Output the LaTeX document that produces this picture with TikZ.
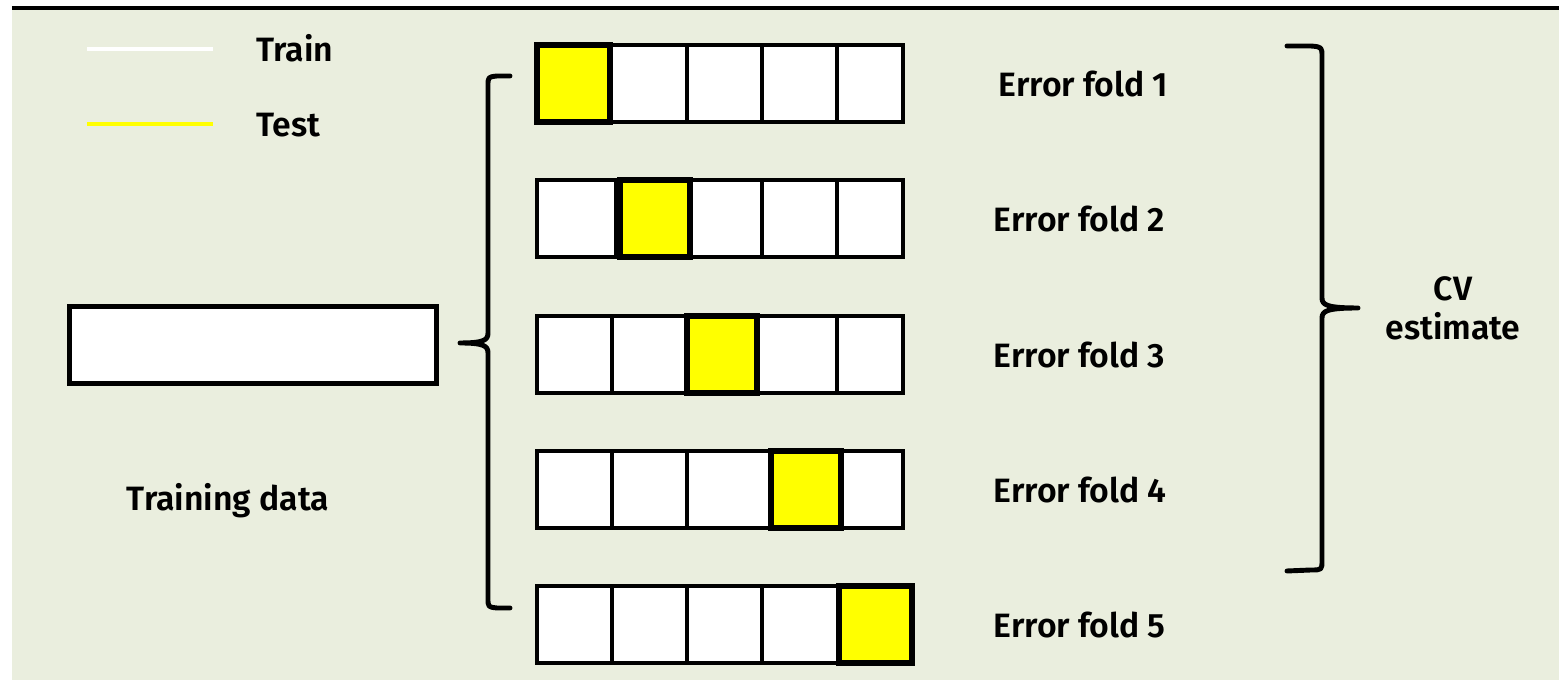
\documentclass[tikz,border=0pt]{standalone}
\usepackage{fontspec}
\setmainfont{Fira Sans}[BoldFont={Fira Sans SemiBold}]
\definecolor{panel}{RGB}{234,238,222}
\definecolor{testyellow}{RGB}{255,255,0}
\begin{document}
\begin{tikzpicture}[x=0.01cm, y=-0.01cm,
    font=\bfseries\fontsize{9.6}{11.4}\selectfont,
    fold/.style={draw, line width=1.4pt, fill=white},
    testcell/.style={draw, line width=1.5pt, fill=testyellow},
    cut/.style={line width=0.9pt},
    bracket/.style={line width=1.4pt, line cap=round, line join=round},
    lbl/.style={anchor=base west, inner sep=0pt}]
  \useasboundingbox (0,0) rectangle (1559,680);
  \fill[white] (0,0) rectangle (1559,680);
  \fill[panel] (12,8) rectangle (1559,680);
  \draw[line width=1.4pt] (12,8) |- (1559,8);

  % legend
  \draw[line width=1.4pt, white] (87,49) -- (213,49);
  \node[lbl] (train) at (256,62) {Train};
  \draw[line width=1.4pt, testyellow] (87,124) -- (213,124);
  \node[lbl] (test) at (256,137) {Test};

  % the whole training set
  \node[fold, inner sep=0pt, minimum width=3.66cm, minimum height=0.77cm] (data) at (253,345) {};
  \node[anchor=base] (datalbl) at (228,511) {Training data};

  % one row per fold, test block in yellow
  \foreach \k/\yt/\ya/\yb/\lx/\cuts in {1/45/537/610/998/{687,762,837},
      2/180/620/690/993/{616,762,837}, 3/316/687/757/993/{612,837},
      4/451/771/841/993/{612,687}, 5/586/839/912/993/{612,687,762}} {
    \draw[fold] (537,\yt) rectangle (903,\yt+77);
    \foreach \c in \cuts
      \draw[cut] (\c,\yt) -- (\c,\yt+77);
    \draw[testcell] (\ya,\yt) rectangle (\yb,\yt+77);
    \node[lbl] (err\k) at (\lx,\yt+52) {Error fold \k};
  }

  % braces
  \coordinate (split) at (460,343);
  \coordinate (merge) at (1358,308);
  \draw[bracket] (510,76) -- (497,76) .. controls (488,77) .. (488,86) -- (488,333)
    .. controls (488,340) and (484,343) .. (split)
    .. controls (484,343) and (488,346) .. (488,353) -- (488,598)
    .. controls (488,607) .. (497,608) -- (510,608);
  \draw[bracket] (1287,46) -- (1311,46) .. controls (1322,47) .. (1322,57) -- (1322,298)
    .. controls (1322,305) and (1327,308) .. (merge)
    .. controls (1327,308) and (1322,311) .. (1322,318) -- (1322,560)
    .. controls (1322,570) .. (1311,570) -- (1287,571);

  \node[anchor=base] (cv) at (1453,301) {CV};
  \node[anchor=base] (est) at (1453,340) {estimate};
\end{tikzpicture}
\end{document}
